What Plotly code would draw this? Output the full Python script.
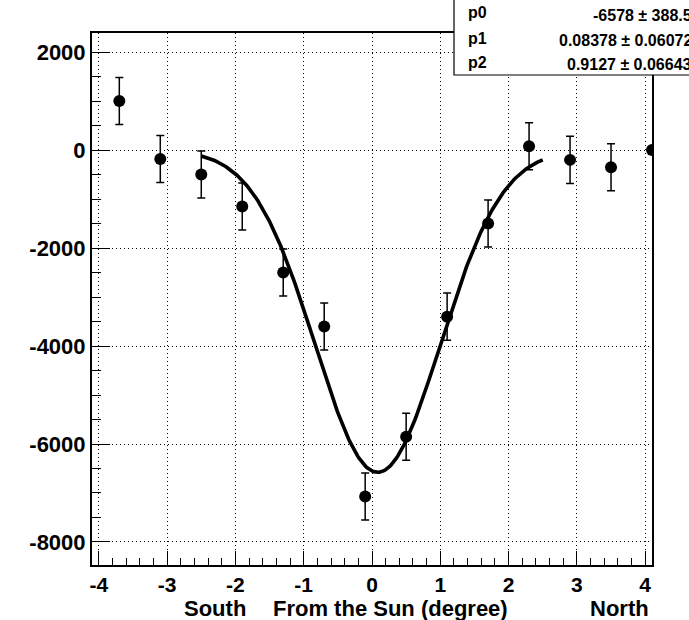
import numpy as np
import plotly.graph_objects as go

# ---- data ----
x_deg = [-3.7, -3.1, -2.5, -1.9, -1.3, -0.7, -0.1, 0.5, 1.1, 1.7, 2.3, 2.9, 3.5, 4.1]
counts = [1000, -180, -500, -1150, -2500, -3600, -7070, -5850, -3400, -1500, 80, -200, -350, 0]
errors = [480, 480, 480, 480, 480, 480, 480, 480, 480, 480, 480, 480, 480, 0]

# Gaussian fit parameters shown in the stat box
p0, p0_err = -6578, 388.5
p1, p1_err = 0.08378, 0.06072
p2, p2_err = 0.9127, 0.06643
fit_range = (-2.5, 2.5)

x_ticks = [-4, -3, -2, -1, 0, 1, 2, 3, 4]
y_ticks = [2000, 0, -2000, -4000, -6000, -8000]

FONT = "Liberation Sans, Arial, Helvetica, sans-serif"

fx = np.linspace(fit_range[0], fit_range[1], 300)
fy = p0 * np.exp(-0.5 * ((fx - p1) / p2) ** 2)

fig = go.Figure()
fig.add_trace(go.Scatter(
    x=fx, y=fy, mode="lines",
    line=dict(color="black", width=3.6), hoverinfo="skip", showlegend=False))
fig.add_trace(go.Scatter(
    x=x_deg, y=counts, mode="markers",
    marker=dict(color="black", size=12),
    error_y=dict(type="data", array=errors, visible=True, color="black",
                 thickness=1.5, width=4),
    showlegend=False))

W, H = 689, 620
ml, mr, mt, mb = 92, 37, 33, 55

GRIDDASH = "1px,3px"

fig.update_layout(
    width=W, height=H,
    margin=dict(l=ml, r=mr, t=mt, b=mb),
    paper_bgcolor="white", plot_bgcolor="white",
    xaxis=dict(
        range=[-4.1, 4.1], tickvals=x_ticks, ticktext=[str(v) for v in x_ticks],
        tickfont=dict(family=FONT, size=21, color="black", weight="bold"),
        ticks="inside", ticklen=14, tickwidth=1.2, tickcolor="black",
        minor=dict(dtick=0.2, ticks="inside", ticklen=7, tickwidth=1, tickcolor="black", showgrid=False),
        showgrid=True, gridcolor="black", griddash=GRIDDASH, gridwidth=1,
        showline=True, linecolor="black", linewidth=2, mirror=True,
        zeroline=False, fixedrange=True),
    yaxis=dict(
        range=[-8470, 2390], tickvals=y_ticks, ticktext=[str(v) for v in y_ticks],
        tickfont=dict(family=FONT, size=22, color="black", weight="bold"),
        ticks="inside", ticklen=18, tickwidth=1.2, tickcolor="black",
        minor=dict(dtick=500, ticks="inside", ticklen=9, tickwidth=1, tickcolor="black", showgrid=False),
        showgrid=True, gridcolor="black", griddash=GRIDDASH, gridwidth=1,
        showline=True, linecolor="black", linewidth=2, mirror=True,
        zeroline=False, fixedrange=True),
)

pw = W - ml - mr
ph = H - mt - mb


def px2paper_x(px):
    return (px - ml) / pw


def px2paper_y(py):
    return (H - mb - py) / ph


# axis title pieces
for txt, px in [("South", 215), ("From the Sun (degree)", 390), ("North", 619)]:
    fig.add_annotation(text=txt, x=px2paper_x(px), y=px2paper_y(608), xref="paper", yref="paper",
                       showarrow=False, xanchor="center", yanchor="middle",
                       font=dict(family=FONT, size=22, color="black", weight="bold"))

# stat box
fig.add_shape(type="rect", xref="paper", yref="paper",
              x0=px2paper_x(454), x1=px2paper_x(720), y0=px2paper_y(75), y1=px2paper_y(-20),
              fillcolor="white", line=dict(color="black", width=1.2), layer="above")

rows = [("p0", f"{p0} \u00b1 {p0_err}", 13),
        ("p1", f"{p1} \u00b1 {p1_err}", 38),
        ("p2", f"{p2} \u00b1 {p2_err}", 62)]
for lab, val, py in rows:
    fig.add_annotation(text=lab, x=px2paper_x(466), y=px2paper_y(py), xref="paper", yref="paper",
                       showarrow=False, xanchor="left", yanchor="middle",
                       font=dict(family=FONT, size=16, color="black", weight="bold"))
    fig.add_annotation(text=val, x=px2paper_x(694), y=px2paper_y(py + 2), xref="paper", yref="paper",
                       showarrow=False, xanchor="right", yanchor="middle",
                       font=dict(family=FONT, size=16, color="black", weight="bold"))

fig.write_html("out.html")
